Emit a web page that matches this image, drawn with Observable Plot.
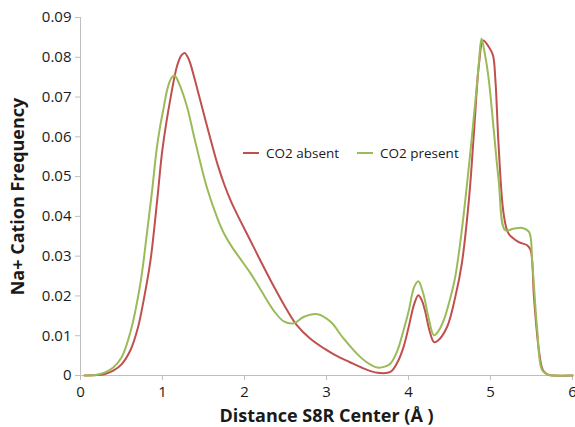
<!DOCTYPE html>
<html><head><meta charset="utf-8">
<script src="https://cdn.jsdelivr.net/npm/d3@7"></script>
<script src="https://cdn.jsdelivr.net/npm/@observablehq/plot@0.6"></script>
<style>
body{margin:0;background:#fff;}
#wrap{position:relative;width:575px;height:427px;font-family:"Open Sans",sans-serif;}
.item{position:absolute;top:143px;font-size:13.5px;line-height:20px;display:flex;align-items:center;white-space:nowrap;color:#1a1a1a}
.sw{display:inline-block;width:16px;height:2px;margin-right:7px}
</style></head><body><div id="wrap"></div>
<script>
const seriesNames = ["CO2 absent", "CO2 present"];
const seriesColors = ["#C0504D", "#9BBB59"];
const xTitle = "Distance S8R Center (Å )";
const yTitle = "Na+ Cation Frequency";
const xTicks = [0, 1, 2, 3, 4, 5, 6];
const xTickLabels = ["0", "1", "2", "3", "4", "5", "6"];
const yTicks = [0, 0.01, 0.02, 0.03, 0.04, 0.05, 0.06, 0.07, 0.08, 0.09];
const yTickLabels = ["0", "0.01", "0.02", "0.03", "0.04", "0.05", "0.06", "0.07", "0.08", "0.09"];

const xAbsent = [0.05,0.2,0.3,0.4,0.5,0.61,0.7,0.77,0.854,0.935,1.0,1.1,1.18,1.23,1.27,1.32,1.38,1.45,1.52,1.6,1.68,1.75,1.83,1.91,2.07,2.15,2.36,2.52,2.64,2.8,2.97,3.1,3.28,3.45,3.62,3.78,3.87,3.94,4.0,4.07,4.12,4.16,4.2,4.26,4.31,4.36,4.47,4.57,4.65,4.74,4.8,4.86,4.91,4.98,5.03,5.06,5.1,5.16,5.22,5.34,5.45,5.49,5.53,5.59,5.64,5.7,5.77,6.0];
const yAbsent = [0,0.0001,0.0004,0.0012,0.0028,0.0064,0.012,0.0189,0.029,0.044,0.057,0.07,0.078,0.0805,0.0811,0.0795,0.0755,0.07,0.0645,0.0583,0.0525,0.0482,0.044,0.0405,0.034,0.0307,0.0223,0.0164,0.0126,0.0093,0.0068,0.0052,0.0034,0.0018,0.0007,0.0009,0.0035,0.0072,0.012,0.018,0.0202,0.019,0.0164,0.011,0.0084,0.0088,0.0122,0.0197,0.0281,0.0449,0.0616,0.0784,0.0842,0.0826,0.0805,0.0742,0.0574,0.0407,0.0357,0.0336,0.0327,0.0315,0.0197,0.0064,0.0013,0.0002,0,0];

const xPresent = [0.05,0.2,0.3,0.4,0.5,0.61,0.73,0.81,0.874,0.927,0.97,1.016,1.05,1.1,1.146,1.2,1.3,1.38,1.45,1.545,1.67,1.75,1.85,1.95,2.07,2.15,2.36,2.48,2.6,2.72,2.89,3.05,3.2,3.37,3.5,3.62,3.72,3.78,3.86,3.94,4.0,4.07,4.12,4.18,4.25,4.31,4.36,4.43,4.51,4.57,4.65,4.74,4.82,4.86,4.89,4.93,4.98,5.04,5.1,5.18,5.28,5.39,5.47,5.51,5.57,5.63,5.7,5.77,6.0];
const yPresent = [0,0.0002,0.0008,0.002,0.0045,0.011,0.0231,0.0357,0.0466,0.0566,0.0625,0.0675,0.0712,0.0745,0.0754,0.0735,0.0675,0.0605,0.0545,0.047,0.0395,0.0357,0.0322,0.0293,0.0258,0.0232,0.0162,0.0136,0.0131,0.0147,0.0154,0.0135,0.0095,0.0055,0.0032,0.002,0.0023,0.003,0.006,0.0114,0.016,0.0223,0.0237,0.0206,0.014,0.0101,0.011,0.0139,0.0195,0.0248,0.0365,0.0533,0.07,0.079,0.0847,0.081,0.0742,0.0616,0.049,0.0365,0.0369,0.0371,0.0361,0.0281,0.0114,0.0013,0.0002,0,0];

const data = [
  ...xAbsent.map((x, i) => ({x, y: yAbsent[i], s: seriesNames[0]})),
  ...xPresent.map((x, i) => ({x, y: yPresent[i], s: seriesNames[1]}))
];
const xLab = new Map(xTicks.map((t, i) => [t, xTickLabels[i]]));
const yLab = new Map(yTicks.map((t, i) => [t, yTickLabels[i]]));
const axisColor = "#bfbfbf";

const plot = Plot.plot({
  width: 575, height: 427,
  marginLeft: 80, marginRight: 3, marginTop: 17, marginBottom: 52,
  style: {fontFamily: '"Open Sans", sans-serif', fontSize: "15px", color: "#1a1a1a", background: "#fff", overflow: "visible"},
  x: {domain: [0, 6]},
  y: {domain: [0, 0.09]},
  color: {domain: seriesNames, range: seriesColors},
  marks: [
    Plot.axisY(yTicks, {tickSize: 5, tickPadding: 4, stroke: axisColor, tickFormat: d => yLab.get(d), label: null}),
    Plot.axisX(xTicks, {tickSize: 5, tickPadding: 6, stroke: axisColor, tickFormat: d => xLab.get(d), label: null}),
    Plot.ruleX([0], {stroke: axisColor}),
    Plot.ruleY([0], {stroke: axisColor}),
    Plot.line(data, {x: "x", y: "y", z: "s", stroke: "s", strokeWidth: 2, curve: "catmull-rom"}),
    Plot.text([xTitle], {text: d => d, frameAnchor: "bottom", lineAnchor: "middle", textAnchor: "middle", dy: 41, fontWeight: "bold", fontSize: 18}),
    Plot.text([yTitle], {text: d => d, frameAnchor: "left", lineAnchor: "middle", textAnchor: "middle", dx: -62, rotate: -90, fontWeight: "bold", fontSize: 18})
  ]
});
const wrap = document.getElementById("wrap");
wrap.appendChild(plot);
const legendLeft = [243, 357];
seriesNames.forEach((n, i) => {
  const it = document.createElement("div");
  it.className = "item";
  it.style.left = legendLeft[i] + "px";
  const sw = document.createElement("span");
  sw.className = "sw";
  sw.style.background = seriesColors[i];
  it.appendChild(sw);
  it.appendChild(document.createTextNode(n));
  wrap.appendChild(it);
});
</script></body></html>
